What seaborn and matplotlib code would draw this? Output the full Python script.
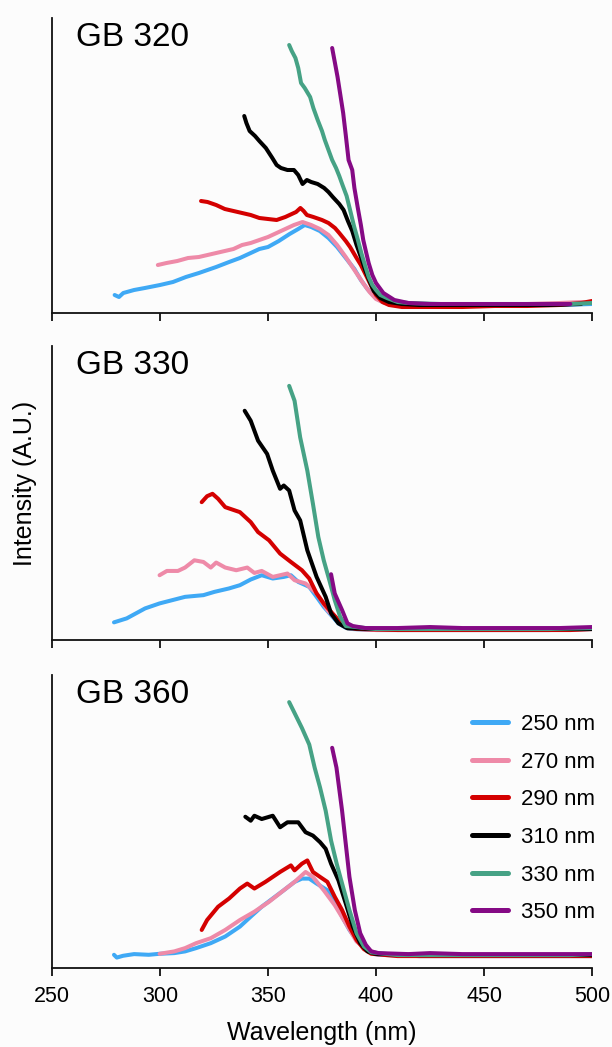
import numpy as np
import pandas as pd
import matplotlib
matplotlib.use("Agg")
import matplotlib.pyplot as plt
import seaborn as sns

# ---------------- data ----------------
panels = ["GB 320", "GB 330", "GB 360"]
series_labels = ["250 nm", "270 nm", "290 nm", "310 nm", "330 nm", "350 nm"]
colors = ["#3fa9f5", "#ee8aa8", "#d40000", "#000000", "#46a285", "#850a85"]

# ---- GB 320 ----
p1_250_x = [279, 281, 283, 288, 293, 300, 306, 312, 318, 322, 326, 332, 337, 342, 346, 350, 355, 360, 364, 367, 370, 374, 378, 382, 386, 390, 393, 396, 400, 403, 407, 415, 425, 440, 455, 470, 485, 500]
p1_250_y = [18, 16, 20, 23, 25, 28, 31, 36, 40, 43, 46, 51, 55, 60, 64, 66, 72, 79, 84, 88, 86, 82, 75, 66, 55, 44, 33, 24, 15, 11, 9, 8, 8, 7, 8, 8, 8, 9]
p1_270_x = [299, 303, 308, 313, 318, 322, 326, 330, 334, 338, 342, 346, 350, 354, 358, 362, 366, 370, 374, 378, 382, 386, 390, 394, 397, 400, 404, 410, 425, 440, 455, 470, 485, 495, 500]
p1_270_y = [48, 50, 52, 55, 56, 58, 60, 62, 64, 68, 70, 73, 76, 80, 84, 88, 91, 88, 84, 78, 68, 56, 43, 30, 21, 14, 10, 8, 8, 8, 8, 9, 10, 11, 10]
p1_290_x = [319, 322, 326, 330, 334, 338, 342, 346, 350, 354, 358, 361, 363, 365, 366.5, 368, 371, 375, 378, 381, 383, 386, 388, 391, 393, 396, 398, 400, 403, 406, 412, 425, 440, 455, 470, 485, 495, 500]
p1_290_y = [112, 111, 108, 104, 102, 100, 98, 95, 94, 93, 96, 99, 101, 105, 102, 98, 96, 93, 90, 85, 80, 72, 66, 55, 48, 35, 26, 18, 11, 8, 6, 6, 6, 7, 7, 8, 10, 12]
p1_310_x = [339, 340, 341.5, 344, 346, 349, 352, 354, 356, 359, 362, 364, 366, 368, 370, 373, 376, 378, 380, 383, 385, 387, 389, 391, 393, 395, 397, 399, 402, 406, 412, 420, 435, 450, 465, 480, 495]
p1_310_y = [197, 190, 182, 177, 172, 165, 155, 148, 145, 143, 143, 138, 129, 133, 131, 129, 125, 121, 116, 109, 103, 92, 82, 68, 56, 43, 32, 22, 15, 11, 9, 8, 8, 8, 8, 8, 9]
p1_330_x = [359.8, 361, 362.7, 364, 365.3, 367, 369.5, 371, 373, 375, 376.3, 378, 379.7, 381.5, 383, 384.5, 386.4, 388, 389.8, 391.5, 393.2, 395, 396.6, 398.3, 400, 402, 405, 410, 415, 430, 445, 460, 475, 490, 500]
p1_330_y = [268, 262, 255, 245, 230, 225, 216, 205, 193, 182, 173, 163, 153, 145, 137, 128, 117, 103, 87, 74, 60, 47, 36, 28, 23, 18, 15, 11, 10, 9, 9, 9, 9, 9, 10]
p1_350_x = [379.7, 381, 382.2, 383.5, 384.8, 386, 387.3, 389, 390, 391.5, 393, 394.1, 395.5, 396.6, 398.3, 400, 403.4, 408.5, 415, 425, 440, 455, 470, 480, 490]
p1_350_y = [265, 250, 236, 218, 200, 178, 153, 143, 125, 106, 88, 73, 60, 50, 38, 30, 20, 13, 10, 9, 9, 9, 9, 9, 9]

# ---- GB 330 ----
p2_250_x = [278.7, 284.6, 293.1, 299.8, 311.6, 320.1, 325.2, 331.9, 337, 342, 347.1, 352.2, 357.3, 360.6, 364, 369.1, 372.5, 375.8, 379.2, 382.6, 386, 389.3, 400, 420, 440, 460, 480, 500]
p2_250_y = [17.7, 21.7, 31.7, 36.7, 43.3, 45, 48.3, 51.7, 55, 60.7, 65, 61.7, 63.3, 65, 58.3, 53.3, 43.3, 33.3, 25, 16.7, 12.3, 11, 10, 10, 10, 10, 10, 11]
p2_270_x = [299.8, 303.2, 308.3, 311.6, 315.9, 320.1, 323.5, 326, 330.2, 335.3, 340.4, 343.7, 347.1, 352.2, 359, 362.3, 367.4, 372.5, 377.5, 382.6, 387.7, 400, 420, 440, 460, 480, 500]
p2_270_y = [65, 69.3, 69.3, 72.7, 80, 78.3, 72.7, 77.7, 72.7, 70, 72.7, 67.3, 69.3, 63.3, 66.7, 60, 56.7, 46.7, 30, 18.3, 11.7, 10, 10, 10, 10, 10, 11]
p2_290_x = [319.3, 321.8, 324.3, 326.9, 330.2, 337, 342, 345.4, 350.5, 355.6, 360.6, 365.7, 369.1, 372.5, 375.8, 379.2, 382.6, 386, 391, 410, 430, 450, 470, 490, 500]
p2_290_y = [138.3, 144.3, 146.7, 141.7, 133.3, 128.3, 118.3, 108.3, 100, 86.7, 78.3, 70, 61.7, 46.7, 36.7, 28.3, 20, 14, 11, 10, 10, 10, 10, 10, 11]
p2_310_x = [339.2, 342, 345.4, 349.6, 352.2, 355.6, 357.3, 359.8, 362.3, 364.9, 368.2, 372.5, 376.7, 379.2, 382.6, 386.8, 400, 420, 440, 460, 480, 500]
p2_310_y = [230, 220, 200, 186.7, 170, 151.7, 155, 150, 130, 120, 90, 63.3, 43.3, 26.7, 16.7, 11.7, 11, 11, 11, 11, 11, 11]
p2_330_x = [359.8, 362.3, 364.9, 368.2, 370.8, 373.3, 375.8, 378.4, 380.9, 383.4, 386, 400, 420, 440, 460, 480, 500]
p2_330_y = [255, 240, 203.3, 170, 136.7, 103.3, 80, 60, 40, 23.3, 14, 11, 11, 11, 11, 11, 12]
p2_350_x = [379.2, 380.9, 382.6, 384.3, 386.8, 389.3, 395, 410, 425, 440, 455, 470, 485, 500]
p2_350_y = [66, 46.7, 38.3, 30, 16.7, 14, 12, 12, 13, 12, 12, 12, 12, 13]

# ---- GB 360 ----
p3_250_x = [278.7, 280, 282.9, 288, 294.8, 299.8, 306.6, 311.6, 316.7, 323.5, 330.2, 337, 342, 347.1, 352.2, 357.3, 362.3, 365.7, 369.1, 372.5, 377.5, 380.9, 384.3, 387.7, 391, 394.4, 397.8, 401.2, 420, 440, 460, 480, 500]
p3_250_y = [13.3, 10.5, 12.3, 14, 13.3, 14.3, 15, 16.7, 20, 25, 31.7, 41.7, 51.7, 61.7, 70, 78.3, 86.7, 90, 90, 85, 78.3, 68.3, 51.7, 38.3, 28.3, 20, 15, 13.3, 12, 12, 12, 12, 12]
p3_270_x = [299.8, 306.6, 311.6, 316.7, 323.5, 330.2, 337, 343.7, 350.5, 357.3, 362.3, 367.4, 370.8, 375.8, 380.9, 386, 391, 396.1, 401.2, 420, 440, 460, 480, 500]
p3_270_y = [14.3, 16.7, 20, 25, 30, 38.3, 48.3, 56.7, 66.7, 78.3, 86.7, 96.7, 91.7, 78.3, 63.3, 45, 26.7, 18.3, 14.3, 12, 12, 12, 12, 12]
p3_290_x = [319.3, 321.8, 326.9, 332, 337, 340.4, 343.7, 348.8, 352.2, 355.6, 360.6, 362.3, 365.7, 368.2, 370.8, 374.1, 377.5, 380.9, 384.3, 387.7, 391, 394.4, 397.8, 410, 430, 450, 470, 490, 500]
p3_290_y = [38.3, 48.3, 61.7, 70, 80, 85, 80, 86.7, 91.7, 96.7, 103.3, 98.3, 105, 108.3, 96.7, 91.7, 86.7, 71.7, 58.3, 41.7, 28.3, 19, 14.3, 12, 12, 12, 12, 12, 12]
p3_310_x = [339.5, 342, 343.7, 347.1, 352.2, 355.6, 359, 364, 367.4, 370.8, 374.1, 376.7, 379.2, 382.6, 386, 389.3, 392.7, 396.1, 399.5, 420, 440, 460, 480, 500]
p3_310_y = [152.3, 148.3, 153.3, 150, 153.3, 141.7, 146.7, 146.7, 136.7, 133.3, 126.7, 120, 105, 88.3, 65, 41.7, 25, 16.7, 14.3, 13, 13, 13, 13, 13]
p3_330_x = [359.8, 362.3, 365.7, 369.1, 371.6, 374.1, 376.7, 379.2, 381.8, 384.3, 387.7, 391, 394.4, 397.8, 410, 430, 450, 470, 490, 500]
p3_330_y = [267.7, 256.7, 241.7, 225, 201.7, 181.7, 158.3, 128.3, 105, 85, 58.3, 35, 21.7, 15.7, 13, 13, 13, 13, 13, 14]
p3_350_x = [379.7, 381.7, 384.3, 386, 387.7, 390.2, 392.7, 395.3, 397.8, 401.2, 415, 425, 440, 455, 470, 485, 500]
p3_350_y = [221.7, 201.7, 158.3, 125, 91.7, 58.3, 35, 23.3, 16.7, 15, 14, 15, 14, 14, 14, 14, 14]

panel_data = [
    [(p1_250_x, p1_250_y), (p1_270_x, p1_270_y), (p1_290_x, p1_290_y),
     (p1_310_x, p1_310_y), (p1_330_x, p1_330_y), (p1_350_x, p1_350_y)],
    [(p2_250_x, p2_250_y), (p2_270_x, p2_270_y), (p2_290_x, p2_290_y),
     (p2_310_x, p2_310_y), (p2_330_x, p2_330_y), (p2_350_x, p2_350_y)],
    [(p3_250_x, p3_250_y), (p3_270_x, p3_270_y), (p3_290_x, p3_290_y),
     (p3_310_x, p3_310_y), (p3_330_x, p3_330_y), (p3_350_x, p3_350_y)],
]

x_ticks = [250, 300, 350, 400, 450, 500]

# ---------------- plotting ----------------
sns.set_style("white")
plt.rcParams["font.family"] = ["Liberation Sans", "DejaVu Sans"]
plt.rcParams["text.color"] = "black"
plt.rcParams["axes.labelcolor"] = "black"
plt.rcParams["xtick.color"] = "black"

W, H = 612, 1047
bg = "#fcfcfc"
fig = plt.figure(figsize=(W / 100, H / 100), dpi=100, facecolor=bg)

# axes boxes in pixel coordinates: (top, bottom)
boxes = [(18, 313), (346, 640), (675, 968)]
left_px, right_px = 52, 592
palette = dict(zip(series_labels, colors))

for i, (name, (top, bot)) in enumerate(zip(panels, boxes)):
    ax = fig.add_axes([left_px / W, 1 - bot / H, (right_px - left_px) / W, (bot - top) / H])
    ax.set_facecolor(bg)
    rows = []
    for lab, (xs, ys) in zip(series_labels, panel_data[i]):
        for x, y in zip(xs, ys):
            rows.append((lab, x, y))
    df = pd.DataFrame(rows, columns=["series", "wl", "I"])
    sns.lineplot(data=df, x="wl", y="I", hue="series", hue_order=series_labels,
                 palette=palette, sort=False, estimator=None, linewidth=2.9,
                 ax=ax, legend=(i == 2))
    ax.set_xlim(250, 500)
    ax.set_ylim(0, 295)
    ax.set_xticks(x_ticks)
    ax.set_yticks([])
    ax.set_xlabel("")
    ax.set_ylabel("")
    for s in ["top", "right"]:
        ax.spines[s].set_visible(False)
    for s in ["left", "bottom"]:
        ax.spines[s].set_color("#111111")
        ax.spines[s].set_linewidth(1.3)
    ax.tick_params(axis="x", direction="out", length=6, width=1.3, color="#111111",
                   bottom=True, labelsize=15.5, pad=7, labelcolor="black")
    if i < 2:
        ax.tick_params(axis="x", labelbottom=False)
    else:
        ax.set_xticklabels([str(t) for t in x_ticks])
        ax.set_xlabel("Wavelength (nm)", fontsize=18, labelpad=10, color="black")
        leg = ax.legend(loc="upper left", bbox_to_anchor=(463 / W, 1 - 705 / H),
                        bbox_transform=fig.transFigure, frameon=False,
                        fontsize=16, handlelength=1.62, handletextpad=0.6,
                        labelspacing=0.75, borderaxespad=0)
        for t in leg.get_texts():
            t.set_color("black")
        for lh in leg.get_lines():
            lh.set_linewidth(3.6)
    ax.text(0.045, 0.985, name, transform=ax.transAxes, fontsize=24,
            ha="left", va="top", color="black")

fig.text(25 / W, 1 - 483 / H, "Intensity (A.U.)", rotation=90, ha="center",
         va="center", fontsize=18, color="black")

fig.savefig("out.png", dpi=100, facecolor=bg)
